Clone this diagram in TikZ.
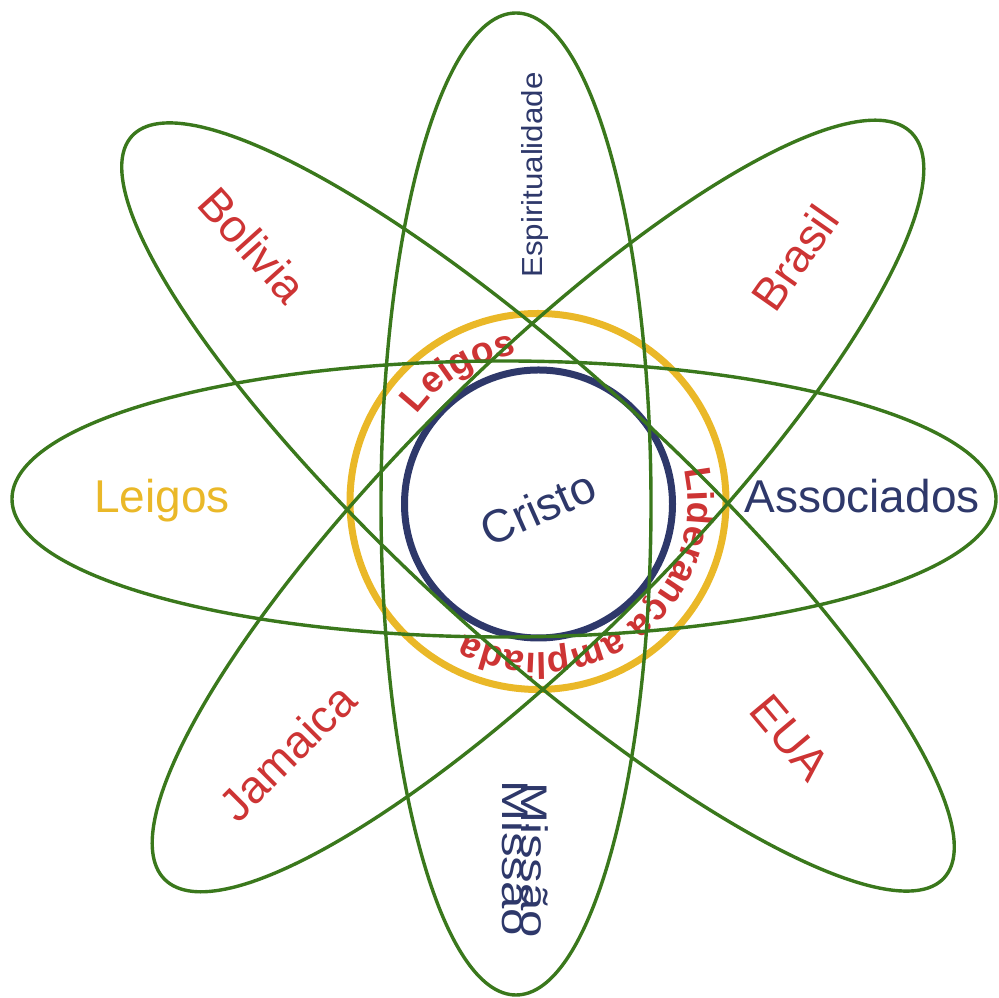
\documentclass[tikz,border=0pt]{standalone}
\usepackage{fontspec}
\setmainfont{Liberation Sans}
\usepackage{xcolor}
\usetikzlibrary{decorations.text}
\definecolor{leafgreen}{RGB}{58,120,28}
\definecolor{navy}{RGB}{46,56,106}
\definecolor{gold}{RGB}{234,184,40}
\definecolor{rosered}{RGB}{205,52,52}

\begin{document}
\begin{tikzpicture}[x=1pt,y=1pt,petal/.style={draw=leafgreen, line width=3.4pt},ring/.style={line width=7pt},
  big/.style={font=\fontsize{46}{52}\selectfont, inner sep=0pt},country/.style={big, text=rosered},
  upright/.style={text=navy, inner sep=0pt, anchor=base west},
  arctext/.style={decorate, decoration={text along path, text align=center, text={#1}}}]
    \useasboundingbox (0,0) rectangle (999,998);
    \coordinate (ctr) at (538,495);
    % the two rings
    \draw[ring, draw=gold] (538,496.5) circle[radius=188];
    \draw[ring, draw=navy] (538.5,494) circle[radius=134];
    \path[arctext={|\fontsize{37}{40}\selectfont\bfseries\color{rosered}|Leigos}] (ctr) ++(161:150) arc[start angle=161, end angle=81, radius=150];
    \path[arctext={|\fontsize{37}{40}\selectfont\bfseries\color{rosered}|Liderança ampliada}] (ctr) ++(27:150) arc[start angle=27, end angle=-133, radius=150];
    % petals
    \draw[petal] (504,499) ellipse[x radius=492, y radius=138];
    \draw[petal] (516,494) ellipse[x radius=135, y radius=491];
    \draw[petal, rotate around={-42.4:(538,491)}] (538,491) ellipse[x radius=550, y radius=135];
    \draw[petal, rotate around={45:(538,492)}] (538,492) ellipse[x radius=528, y radius=137];
    % labels
    \node[big, text=navy, rotate=24] (cristo) at (538,490) {Cristo};
    \node[big, text=gold, anchor=base] (leigos) at (162,485) {Leigos};
    \node[big, text=navy, anchor=base] (assoc) at (862,485) {Associados};
    \node[country, rotate=-48] (bolivia) at (253,753) {Bolivia};
    \node[country, rotate=55] (brasil) at (795,740) {Brasil};
    \node[country, rotate=45] (jamaica) at (287,246) {Jamaica};
    \node[country, rotate=-50] (eua) at (790,260) {EUA};
    \node[upright, font=\fontsize{29}{32}\selectfont, rotate=90] (espir) at (542,720) {\scalebox{1.08}[1]{Espiritualidade}};
    \node[upright, font=\fontsize{37}{40}\selectfont, rotate=-90] (missaoA) at (502,218) {\scalebox{1.33}[1]{Missão}};
    \node[upright, font=\fontsize{37}{40}\selectfont, rotate=-90] (missaoB) at (521,216) {\scalebox{1.33}[1]{Missão}};
\end{tikzpicture}
\end{document}
